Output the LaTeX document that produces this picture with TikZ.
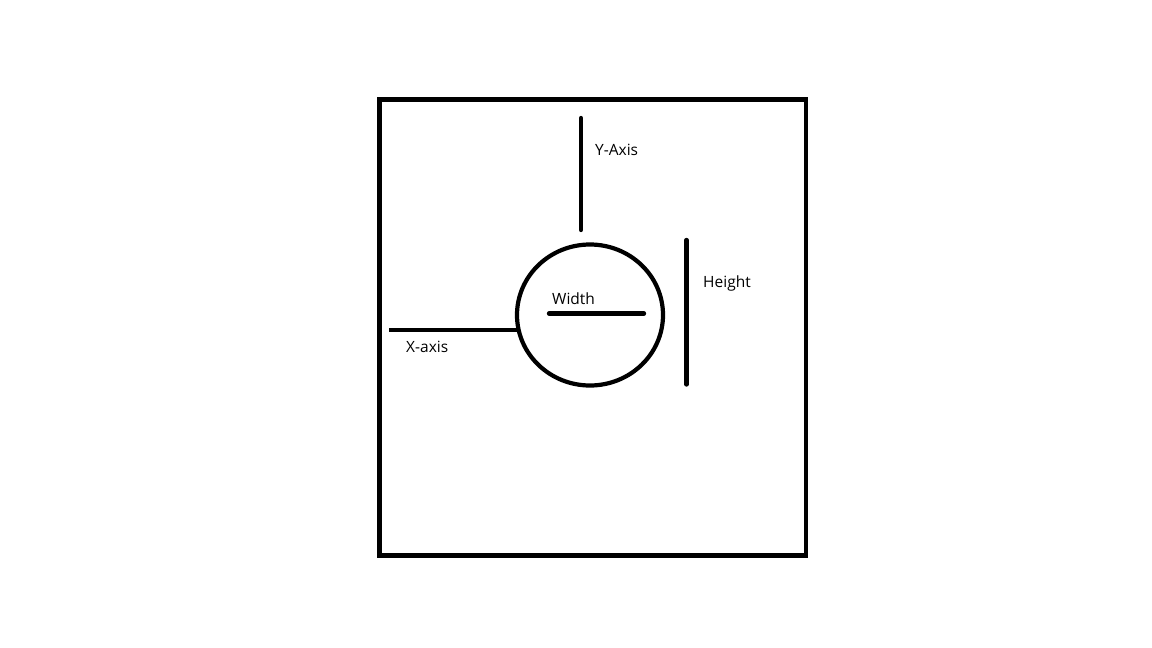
\documentclass[tikz,border=0pt]{standalone}
\usepackage{fontspec}
\setmainfont{Open Sans}
\usetikzlibrary{shapes.geometric}
\begin{document}
\begin{tikzpicture}[x=1pt,y=-1pt,
  thick line/.style={line width=4.3pt,line cap=round},
  lbl/.style={anchor=base west,inner sep=0pt,font=\fontsize{15.5}{18}\selectfont}]
\useasboundingbox (0,0) rectangle (1152,648);
\draw[line width=4.6pt] (379.5,99.5) rectangle (806,555.5);
\node[draw,ellipse,line width=4.2pt,minimum width=146pt,minimum height=141pt,inner sep=0pt] (c) at (590,315) {};
\coordinate (ytop) at (581,118);
\coordinate (ybot) at (581,230);
\draw[thick line] (ytop) -- (ybot);
\coordinate (xl) at (389,330);
\draw[thick line,line cap=butt] (xl) -- (517,330);
\coordinate (wl) at (549,313.5);
\coordinate (wr) at (644,313.5);
\draw[thick line] (wl) -- (wr);
\coordinate (ht) at (686.5,240);
\coordinate (hb) at (686.5,384.5);
\draw[thick line] (ht) -- (hb);
\node[lbl] (ylab) at (595,155) {Y-Axis};
\node[lbl] (hlab) at (703,287) {Height};
\node[lbl] (wlab) at (552,304) {Width};
\node[lbl] (xlab) at (406,352) {X-axis};
\end{tikzpicture}
\end{document}
